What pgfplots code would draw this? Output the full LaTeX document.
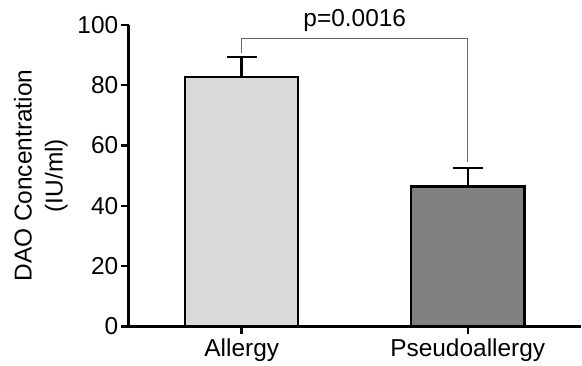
\documentclass[border=0pt]{standalone}
\usepackage{fontspec}
\setmainfont{Liberation Sans}
\usepackage{pgfplots}
\pgfplotsset{compat=1.18}
\definecolor{barA}{RGB}{217,217,217}
\definecolor{barB}{RGB}{128,128,128}
\definecolor{brk}{RGB}{105,105,105}
\begin{document}
\begin{tikzpicture}
\begin{axis}[
  scale only axis, width=453pt, height=302pt,
  xmin=-0.5, xmax=1.5, ymin=0, ymax=100,
  axis x line=bottom, axis y line=left,
  axis line style={-, line width=2.5pt, black},
  xtick={0,1}, xticklabels={Allergy,Pseudoallergy},
  ytick={0,20,40,60,80,100},
  tick align=outside, major tick length=8pt,
  tick style={line width=2.5pt, black},
  ticklabel style={font=\fontsize{24.5}{28}\selectfont, text=black},
  xticklabel style={yshift=-1pt},
  yticklabel style={xshift=1pt},
  /pgf/number format/assume math mode=true,
  ylabel={DAO Concentration\\(IU/ml)},
  ylabel style={align=center, font=\fontsize{24.5}{31}\selectfont, yshift=3pt},
  clip=false,
]
\addplot[ybar, bar width=0.5, bar shift=0pt, fill=barA, draw=black, line width=2.5pt,
  error bars/.cd, y dir=plus, y explicit,
  error bar style={line width=2.5pt, black},
  error mark options={rotate=90, line width=2.5pt, mark size=15pt, black}]
  coordinates {(0,82.8) +- (0,6.6)};
\addplot[ybar, bar width=0.5, bar shift=0pt, fill=barB, draw=black, line width=2.5pt,
  error bars/.cd, y dir=plus, y explicit,
  error bar style={line width=2.5pt, black},
  error mark options={rotate=90, line width=2.5pt, mark size=15pt, black}]
  coordinates {(1,46.4) +- (0,6.2)};
\addplot[brk, line width=1.1pt] coordinates {(0,90.7) (0,95.6) (1,95.6) (1,54.6)};
\node[anchor=base, font=\fontsize{24.5}{28}\selectfont, yshift=12pt] at (axis cs:0.5,95.6) {p=0.0016};
\end{axis}
\path ([shift={(-129pt,-39pt)}]current axis.south west) rectangle ([shift={(0pt,25pt)}]current axis.north east);
\end{tikzpicture}
\end{document}
